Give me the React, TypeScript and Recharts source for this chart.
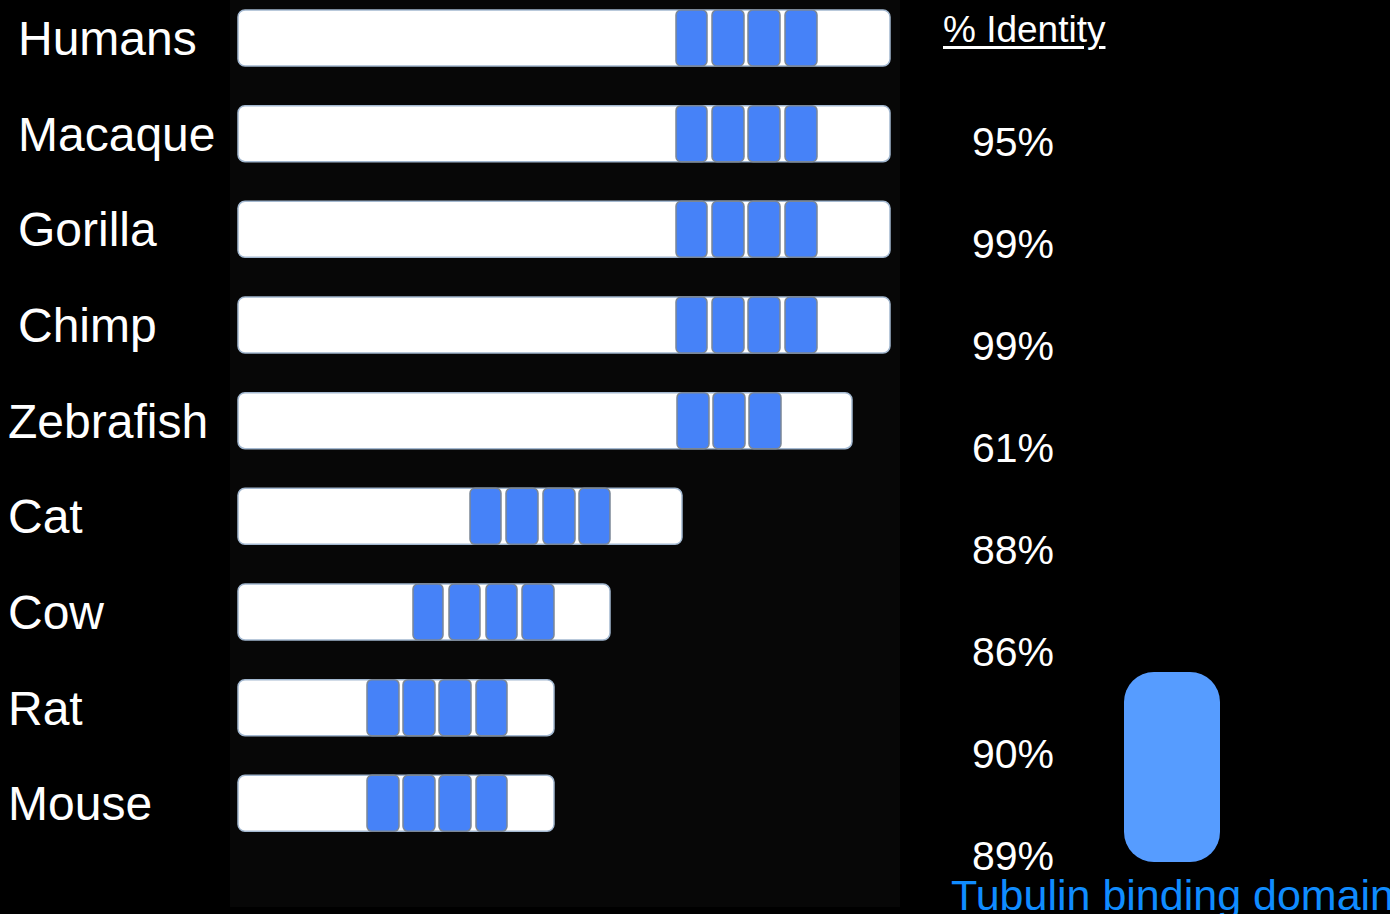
import { BarChart, Bar, XAxis, YAxis, CartesianGrid, Legend } from 'recharts';

// protein schematic, units = residues scaled to the drawing
const species = ['Humans', 'Macaque', 'Gorilla', 'Chimp', 'Zebrafish', 'Cat', 'Cow', 'Rat', 'Mouse'];
const proteinLength = [652, 652, 652, 652, 614, 444, 372, 316, 316];
const repeat1 = [[438, 469], [438, 469], [438, 469], [438, 469], [439, 471], [232, 263], [175, 205], [129, 161], [129, 161]];
const repeat2 = [[474, 506], [474, 506], [474, 506], [474, 506], [475, 507], [268, 300], [211, 242], [165, 197], [165, 197]];
const repeat3 = [[510, 542], [510, 542], [510, 542], [510, 542], [511, 543], [305, 337], [248, 279], [201, 233], [201, 233]];
const repeat4 = [[547, 579], [547, 579], [547, 579], [547, 579], null, [341, 372], [284, 316], [238, 269], [238, 269]];
const identity = [null, 95, 99, 99, 61, 88, 86, 90, 89];

const data = species.map((s, i) => ({
    species: s,
    protein: [0, proteinLength[i]],
    r1: repeat1[i],
    r2: repeat2[i],
    r3: repeat3[i],
    r4: repeat4[i],
}));

const FONT = '"Liberation Sans", Arial, sans-serif';
const DOMAIN_BLUE = '#4682f8';

const SpeciesTick = ({ y, payload, index }: any) => (
    <text x={index < 4 ? 18 : 8} y={y + 17} fill="#fff" fontSize={48} fontFamily={FONT} textAnchor="start">
        {payload.value}
    </text>
);

const IdentityTick = ({ x, y, index }: any) => {
    const v = identity[index];
    if (v == null) return null;
    return (
        <text x={x + 72} y={y + 14} fill="#fff" fontSize={41} fontFamily={FONT} textAnchor="start">
            {`${v}%`}
        </text>
    );
};

const DomainLegend = () => (
    <div style={{ position: 'relative', width: 450, height: 242, fontFamily: FONT }}>
        <div style={{
            position: 'absolute', left: 184, top: 0, width: 96, height: 190,
            borderRadius: 30, background: '#569cff'
        }} />
        <div style={{
            position: 'absolute', left: 11, top: 202, fontSize: 43, lineHeight: '43px',
            color: '#108cff', whiteSpace: 'nowrap'
        }}>
            Tubulin binding domain
        </div>
    </div>
);

export default function App() {
    const repeatProps = {
        yAxisId: 'names', fill: DOMAIN_BLUE, stroke: '#7b8796', strokeWidth: 1.5,
        radius: 5, barSize: 56, isAnimationActive: false,
    };
    return (
        <div style={{ position: 'absolute', left: 0, top: 0, width: 1390, height: 914, background: '#000', overflow: 'hidden' }}>
            <div style={{ position: 'absolute', left: 0, top: -11 }}>
                <BarChart width={1390} height={925} data={data} layout="vertical" barGap={-56}
                    margin={{ top: 0, right: 0, bottom: 7, left: 0 }}>
                    <CartesianGrid yAxisId="names" horizontal={false} vertical={false} fill="#070707" stroke="none" />
                    <XAxis type="number" domain={[-8, 662]} hide allowDataOverflow />
                    <YAxis yAxisId="names" type="category" dataKey="species" width={230} axisLine={false}
                        tickLine={false} interval={0} padding={{ top: 1, bottom: 56 }} tick={<SpeciesTick />} />
                    <YAxis yAxisId="identity" orientation="right" type="category" dataKey="species" width={490}
                        axisLine={false} tickLine={false} tickSize={0} tickMargin={0} interval={0}
                        tick={<IdentityTick />} />
                    <Legend layout="horizontal" verticalAlign="middle" align="center" content={<DomainLegend />}
                        wrapperStyle={{ left: 940, top: 683, width: 450, height: 242 }} />
                    <Bar yAxisId="names" dataKey="protein" fill="#fff" stroke="#a3b8d0" strokeWidth={1.5}
                        radius={7} barSize={56} isAnimationActive={false} />
                    <Bar dataKey="r1" {...repeatProps} />
                    <Bar dataKey="r2" {...repeatProps} />
                    <Bar dataKey="r3" {...repeatProps} />
                    <Bar dataKey="r4" {...repeatProps} />
                </BarChart>
            </div>
            <div style={{
                position: 'absolute', left: 943, top: 10, fontSize: 37, lineHeight: '40px',
                fontFamily: FONT, color: '#fff', textDecoration: 'underline', textUnderlineOffset: 4
            }}>
                % Identity
            </div>
        </div>
    );
}
